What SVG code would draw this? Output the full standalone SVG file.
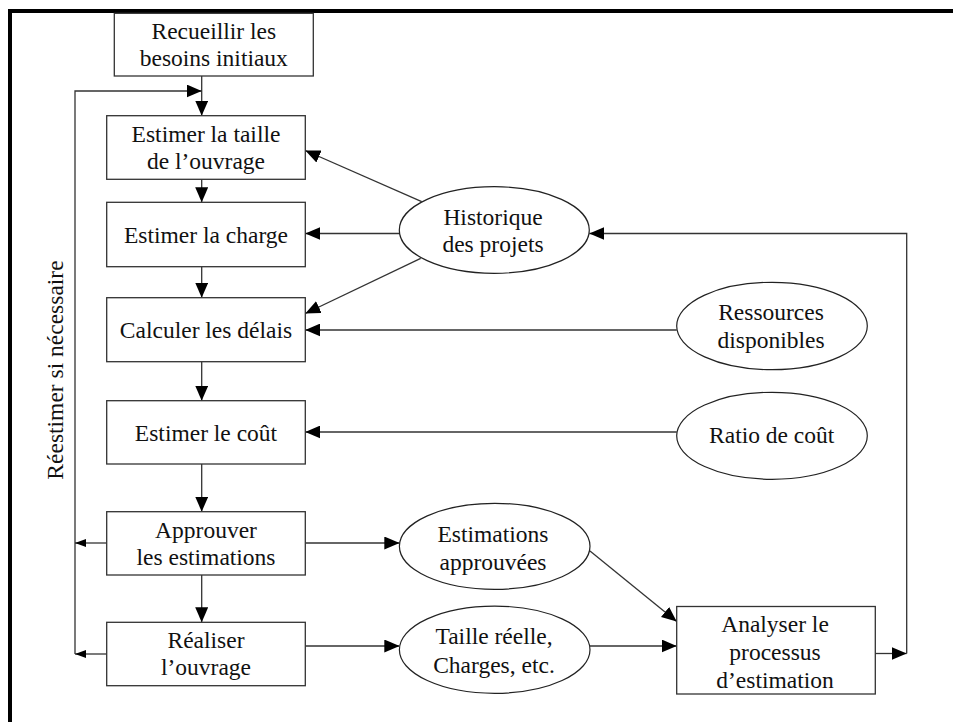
<svg xmlns="http://www.w3.org/2000/svg" width="953" height="722" viewBox="0 0 953 722">
<defs>
<style>
.box{fill:#fff;stroke:#333;stroke-width:1.3}
.ell{fill:#fff;stroke:#222;stroke-width:1.2}
.t{font-family:"Liberation Serif","Times New Roman",serif;font-size:23.5px;fill:#111;text-anchor:middle}
.c{fill:none;stroke:#333;stroke-width:1.3}
.ca{fill:none;stroke:#333;stroke-width:1.3;marker-end:url(#big)}
.cs{fill:none;stroke:#333;stroke-width:1.3;marker-end:url(#small)}
</style>
<marker id="big" markerUnits="userSpaceOnUse" markerWidth="15" markerHeight="13" refX="15" refY="6.5" orient="auto">
<path d="M0,0 L15,6.5 L0,13 z" fill="#000"/>
</marker>
<marker id="small" markerUnits="userSpaceOnUse" markerWidth="11" markerHeight="8" refX="11" refY="4" orient="auto">
<path d="M0,0 L11,4 L0,8 z" fill="#000"/>
</marker>
</defs>
<rect width="953" height="722" fill="#fff"/>
<rect x="10" y="11" width="960" height="740" fill="none" stroke="#000" stroke-width="4"/>

<g id="connectors">
<path class="ca" d="M201.7,76 V115.7"/>
<path class="ca" d="M75,654 V91 H201.7"/>
<path class="cs" d="M106.7,543 H75"/>
<path class="cs" d="M106.7,654 H75"/>
<path class="ca" d="M201.7,179.3 V202.3"/>
<path class="ca" d="M201.7,266.7 V297.7"/>
<path class="ca" d="M201.7,361.7 V400.7"/>
<path class="ca" d="M201.7,464 V511.7"/>
<path class="ca" d="M201.7,575 V622.3"/>
<path class="ca" d="M421.7,201.7 L305.3,150.5"/>
<path class="ca" d="M399.3,233.5 H305.3"/>
<path class="ca" d="M420.7,258.3 L305.3,313.5"/>
<path class="ca" d="M676.7,330 H305.3"/>
<path class="ca" d="M676.7,432 H305.3"/>
<path class="ca" d="M305.3,543 H399.3"/>
<path class="ca" d="M305.3,646 H399.3"/>
<path class="ca" d="M590,551 L676.7,621.5"/>
<path class="ca" d="M590,646 H676.7"/>
<path class="ca" d="M875.3,653.5 H906.7"/>
<path class="ca" d="M906.7,653.5 V233.5 H589.3"/>
</g>

<text class="t" transform="translate(63.3,370) rotate(-90)">Réestimer si nécessaire</text>

<g id="recueillir">
<rect class="box" x="114.3" y="13.3" width="199" height="62.7"/>
<text class="t" x="213.8" y="39">Recueillir les</text>
<text class="t" x="213.8" y="65.7">besoins initiaux</text>
</g>
<g id="estimer-taille">
<rect class="box" x="106.7" y="115.7" width="198.6" height="63.6"/>
<text class="t" x="206" y="141.7">Estimer la taille</text>
<text class="t" x="206" y="169">de l’ouvrage</text>
</g>
<g id="estimer-charge">
<rect class="box" x="106.7" y="202.3" width="198.6" height="64.4"/>
<text class="t" x="206" y="243.3">Estimer la charge</text>
</g>
<g id="calculer-delais">
<rect class="box" x="106.7" y="297.7" width="198.6" height="64"/>
<text class="t" x="206" y="338">Calculer les délais</text>
</g>
<g id="estimer-cout">
<rect class="box" x="106.7" y="400.7" width="198.6" height="63.3"/>
<text class="t" x="206" y="440.7">Estimer le coût</text>
</g>
<g id="approuver">
<rect class="box" x="106.7" y="511.7" width="198.6" height="63.3"/>
<text class="t" x="206" y="537.7">Approuver</text>
<text class="t" x="206" y="565">les estimations</text>
</g>
<g id="realiser">
<rect class="box" x="106.7" y="622.3" width="198.6" height="63.4"/>
<text class="t" x="206" y="648.3">Réaliser</text>
<text class="t" x="206" y="675">l’ouvrage</text>
</g>
<g id="analyser">
<rect class="box" x="676.7" y="606.5" width="198.6" height="87.5"/>
<text class="t" x="775" y="632">Analyser le</text>
<text class="t" x="775" y="660">processus</text>
<text class="t" x="775" y="688">d’estimation</text>
</g>

<g id="historique">
<ellipse class="ell" cx="494.3" cy="230" rx="95" ry="43.3"/>
<text class="t" x="493" y="225">Historique</text>
<text class="t" x="493" y="252.3">des projets</text>
</g>
<g id="ressources">
<ellipse class="ell" cx="772" cy="326" rx="95.3" ry="43.7"/>
<text class="t" x="771" y="320.3">Ressources</text>
<text class="t" x="771" y="348">disponibles</text>
</g>
<g id="ratio">
<ellipse class="ell" cx="772" cy="435.8" rx="95.3" ry="43.5"/>
<text class="t" x="771.7" y="443.3">Ratio de coût</text>
</g>
<g id="estimations-approuvees">
<ellipse class="ell" cx="494.7" cy="546.3" rx="95.3" ry="43"/>
<text class="t" x="493" y="542.3">Estimations</text>
<text class="t" x="493" y="570">approuvées</text>
</g>
<g id="taille-reelle">
<ellipse class="ell" cx="494.7" cy="649.7" rx="95.3" ry="43.6"/>
<text class="t" x="494" y="644">Taille réelle,</text>
<text class="t" x="494" y="672.7">Charges, etc.</text>
</g>
</svg>
